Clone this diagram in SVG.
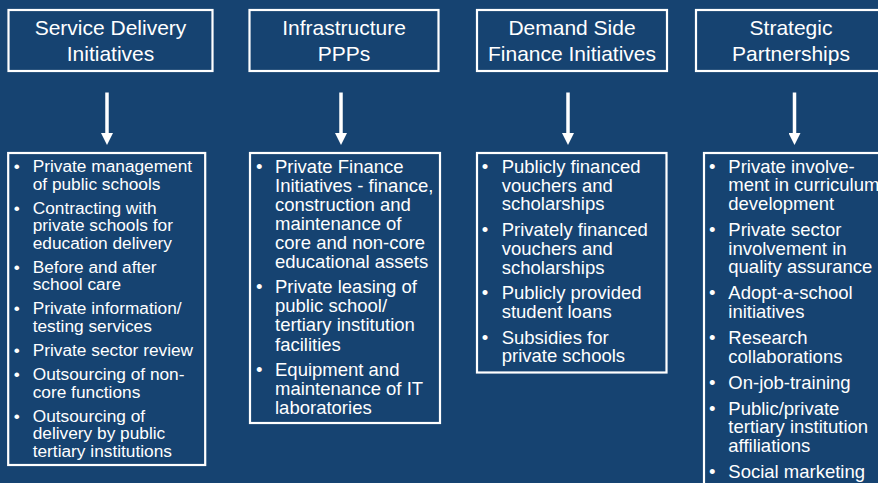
<svg xmlns="http://www.w3.org/2000/svg" width="878" height="483" viewBox="0 0 878 483">
  <style>
    .box { fill: none; stroke: #ffffff; stroke-width: 2.2; }
    .head { font-family: "Liberation Sans", Arial, sans-serif; font-size: 21px; fill: #ffffff; text-anchor: middle; }
    .item { font-family: "Liberation Sans", Arial, sans-serif; fill: #ffffff; }
    .s1 { font-size: 17.3px; }
    .s2 { font-size: 18.5px; }
    .conn { stroke: #ffffff; stroke-width: 3.5; fill: none; }
  </style>
  <defs>
    <marker id="arrow" viewBox="0 0 12 12" refX="0" refY="6" markerWidth="12" markerHeight="12" markerUnits="userSpaceOnUse" orient="auto">
      <path d="M0,0 L12,6 L0,12 Z" fill="#ffffff"/>
    </marker>
  </defs>

  <rect width="878" height="483" fill="#164371"/>

  <!-- Category headers -->
  <g id="service-delivery">
    <rect class="box" x="8.5" y="10" width="204" height="61"/>
    <text class="head" x="110.5" y="35">Service Delivery<tspan x="110.5" dy="26">Initiatives</tspan></text>
  </g>
  <g id="infrastructure-ppps">
    <rect class="box" x="249.5" y="10" width="189" height="61"/>
    <text class="head" x="344" y="35">Infrastructure<tspan x="344" dy="26">PPPs</tspan></text>
  </g>
  <g id="demand-side">
    <rect class="box" x="477" y="10" width="190" height="61"/>
    <text class="head" x="572" y="35">Demand Side<tspan x="572" dy="26">Finance Initiatives</tspan></text>
  </g>
  <g id="strategic-partnerships">
    <rect class="box" x="696" y="10" width="191" height="61"/>
    <text class="head" x="791" y="35">Strategic<tspan x="791" dy="26">Partnerships</tspan></text>
  </g>

  <!-- Downward arrows from headers to lists -->
  <g id="connectors">
    <line class="conn" x1="107" y1="92.5" x2="107" y2="133" marker-end="url(#arrow)"/>
    <line class="conn" x1="341" y1="92.5" x2="341" y2="133" marker-end="url(#arrow)"/>
    <line class="conn" x1="568" y1="92.5" x2="568" y2="133" marker-end="url(#arrow)"/>
    <line class="conn" x1="794.5" y1="92.5" x2="794.5" y2="133" marker-end="url(#arrow)"/>
  </g>

  <!-- Service delivery list -->
  <g id="service-delivery-list">
    <rect class="box" x="8.2" y="153" width="197" height="312"/>
    <g class="item s1">
      <text x="13.7" y="172.3">•</text>
      <text x="32.7" y="172.3">Private management<tspan x="32.7" dy="17.3">of public schools</tspan></text>
      <text x="13.7" y="213.9">•</text>
      <text x="32.7" y="213.9">Contracting with<tspan x="32.7" dy="17.3">private schools for</tspan><tspan x="32.7" dy="17.3">education delivery</tspan></text>
      <text x="13.7" y="272.8">•</text>
      <text x="32.7" y="272.8">Before and after<tspan x="32.7" dy="17.3">school care</tspan></text>
      <text x="13.7" y="314.4">•</text>
      <text x="32.7" y="314.4">Private information/<tspan x="32.7" dy="17.3">testing services</tspan></text>
      <text x="13.7" y="356">•</text>
      <text x="32.7" y="356">Private sector review</text>
      <text x="13.7" y="380.3">•</text>
      <text x="32.7" y="380.3">Outsourcing of non-<tspan x="32.7" dy="17.3">core functions</tspan></text>
      <text x="13.7" y="421.9">•</text>
      <text x="32.7" y="421.9">Outsourcing of<tspan x="32.7" dy="17.3">delivery by public</tspan><tspan x="32.7" dy="17.3">tertiary institutions</tspan></text>
    </g>
  </g>

  <!-- Infrastructure PPP list -->
  <g id="infrastructure-list">
    <rect class="box" x="250" y="153" width="190" height="270"/>
    <g class="item s2">
      <text x="256" y="172.5">•</text>
      <text x="275" y="172.5">Private Finance<tspan x="275" dy="19.1">Initiatives - finance,</tspan><tspan x="275" dy="19.1">construction and</tspan><tspan x="275" dy="19.1">maintenance of</tspan><tspan x="275" dy="19.1">core and non-core</tspan><tspan x="275" dy="19.1">educational assets</tspan></text>
      <text x="256" y="293.2">•</text>
      <text x="275" y="293.2">Private leasing of<tspan x="275" dy="19.1">public school/</tspan><tspan x="275" dy="19.1">tertiary institution</tspan><tspan x="275" dy="19.1">facilities</tspan></text>
      <text x="256" y="375.7">•</text>
      <text x="275" y="375.7">Equipment and<tspan x="275" dy="19.1">maintenance of IT</tspan><tspan x="275" dy="19.1">laboratories</tspan></text>
    </g>
  </g>

  <!-- Demand side finance list -->
  <g id="demand-side-list">
    <rect class="box" x="477" y="153" width="189.5" height="219.5"/>
    <g class="item s2">
      <text x="481.8" y="173">•</text>
      <text x="501.7" y="173">Publicly financed<tspan x="501.7" dy="18.7">vouchers and</tspan><tspan x="501.7" dy="18.7">scholarships</tspan></text>
      <text x="481.8" y="236.1">•</text>
      <text x="501.7" y="236.1">Privately financed<tspan x="501.7" dy="18.7">vouchers and</tspan><tspan x="501.7" dy="18.7">scholarships</tspan></text>
      <text x="481.8" y="299.2">•</text>
      <text x="501.7" y="299.2">Publicly provided<tspan x="501.7" dy="18.7">student loans</tspan></text>
      <text x="481.8" y="343.6">•</text>
      <text x="501.7" y="343.6">Subsidies for<tspan x="501.7" dy="18.7">private schools</tspan></text>
    </g>
  </g>

  <!-- Strategic partnerships list -->
  <g id="strategic-list">
    <rect class="box" x="704" y="153" width="192" height="345"/>
    <g class="item s2">
      <text x="709" y="172.5">•</text>
      <text x="728.3" y="172.5">Private involve-<tspan x="728.3" dy="18.7">ment in curriculum</tspan><tspan x="728.3" dy="18.7">development</tspan></text>
      <text x="709" y="235.9">•</text>
      <text x="728.3" y="235.9">Private sector<tspan x="728.3" dy="18.7">involvement in</tspan><tspan x="728.3" dy="18.7">quality assurance</tspan></text>
      <text x="709" y="299.3">•</text>
      <text x="728.3" y="299.3">Adopt-a-school<tspan x="728.3" dy="18.7">initiatives</tspan></text>
      <text x="709" y="344">•</text>
      <text x="728.3" y="344">Research<tspan x="728.3" dy="18.7">collaborations</tspan></text>
      <text x="709" y="388.7">•</text>
      <text x="728.3" y="388.7">On-job-training</text>
      <text x="709" y="414.7">•</text>
      <text x="728.3" y="414.7">Public/private<tspan x="728.3" dy="18.7">tertiary institution</tspan><tspan x="728.3" dy="18.7">affiliations</tspan></text>
      <text x="709" y="478.1">•</text>
      <text x="728.3" y="478.1">Social marketing</text>
    </g>
  </g>
</svg>
